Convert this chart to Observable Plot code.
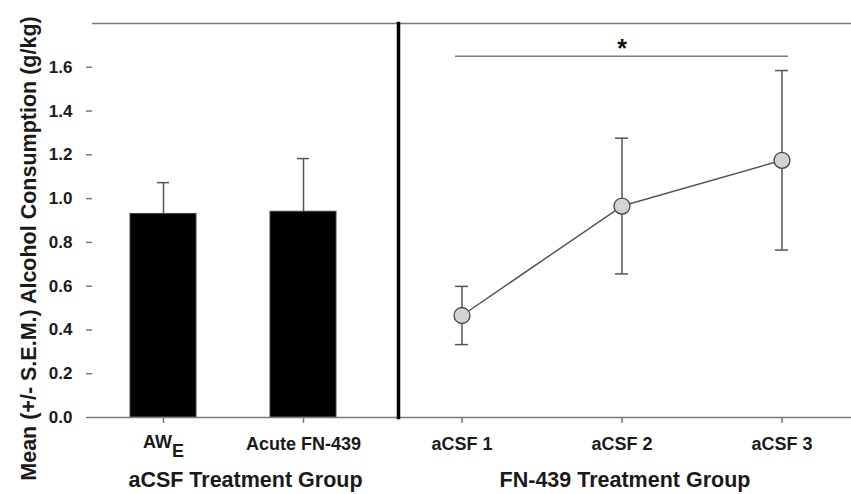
<!DOCTYPE html>
<html>
<head>
<meta charset="utf-8">
<script src="https://cdn.jsdelivr.net/npm/d3@7"></script>
<script src="https://cdn.jsdelivr.net/npm/@observablehq/plot@0.6"></script>
<style>
  html, body { margin: 0; padding: 0; background: #fff; }
  #wrap { display: flex; flex-direction: row; width: 851px; height: 494px; overflow: hidden; }
  #wrap svg { overflow: visible; flex: none; }
  #wrap svg text { font-weight: bold; }
</style>
</head>
<body>
<div id="wrap"></div>
<script>
// ---- data ----
const barGroups = ["AW_E", "Acute FN-439"];
const barMeans = [0.93, 0.94];
const barSems = [0.143, 0.243];

const sessions = ["aCSF 1", "aCSF 2", "aCSF 3"];
const sessionMeans = [0.466, 0.966, 1.175];
const sessionSems = [0.133, 0.31, 0.41];

const yTicks = [0, 0.2, 0.4, 0.6, 0.8, 1.0, 1.2, 1.4, 1.6];
const yLabel = "Mean (+/- S.E.M.) Alcohol Consumption (g/kg)";
const leftGroupLabel = "aCSF Treatment Group";
const rightGroupLabel = "FN-439 Treatment Group";
const sigFrom = "aCSF 1";
const sigTo = "aCSF 3";
const sigLevel = 1.65;
const sigText = "*";

const bars = barGroups.map((g, i) => ({group: g, mean: barMeans[i], sem: barSems[i]}));
const points = sessions.map((s, i) => ({session: s, mean: sessionMeans[i], sem: sessionSems[i]}));

const FONT = "'Liberation Sans', Arial, Helvetica, sans-serif";
const frameGray = "#7a7a7a";
const errGray = "#555";
const H = 494, MT = 23, MB = 77;

const left = Plot.plot({
  width: 398, height: H,
  marginLeft: 92, marginRight: 0, marginTop: MT, marginBottom: MB,
  style: {fontFamily: FONT, background: "transparent"},
  x: {type: "band", domain: barGroups, paddingInner: 0.5286, paddingOuter: 0.357, align: 0.38, axis: null},
  y: {domain: [0, 1.8], axis: null},
  marks: [
    Plot.ruleY([1.8], {stroke: frameGray, strokeWidth: 1.5}),
    Plot.ruleX(bars, {x: "group", y1: "mean", y2: d => d.mean + d.sem, stroke: errGray, strokeWidth: 1.5}),
    Plot.tickY(bars, {x: "group", y: d => d.mean + d.sem, insetLeft: 27, insetRight: 27, stroke: errGray, strokeWidth: 1.5}),
    Plot.barY(bars, {x: "group", y: "mean", fill: "#000", stroke: "#444", strokeWidth: 1}),
    Plot.ruleY([0], {stroke: frameGray, strokeWidth: 1.5}),
    Plot.axisY({ticks: yTicks, tickFormat: d3.format(".1f"), tickSize: 6, tickPadding: 14, fontSize: 17, stroke: frameGray, strokeWidth: 1.5, fill: "#1a1a1a", line: true, label: null}),
    Plot.axisX({tickSize: 6, tickPadding: 14, fontSize: 18, stroke: frameGray, strokeWidth: 1.5, fill: "#1a1a1a", label: null}),
    Plot.text([yLabel], {frameAnchor: "left", textAnchor: "middle", dx: -63, dy: 28, rotate: -90, fontSize: 21.5, fill: "#1a1a1a", lineAnchor: "middle"}),
    Plot.text([leftGroupLabel], {frameAnchor: "bottom", dy: 63, fontSize: 21.5, fill: "#1a1a1a", lineAnchor: "middle"})
  ]
});

const right = Plot.plot({
  width: 453, height: H,
  marginLeft: 0, marginRight: 0, marginTop: MT, marginBottom: MB,
  style: {fontFamily: FONT, background: "transparent"},
  x: {type: "band", domain: sessions, paddingInner: 0.9216, paddingOuter: 0.371, align: 0.475, axis: null},
  y: {domain: [0, 1.8], axis: null},
  marks: [
    Plot.ruleY([1.8], {stroke: frameGray, strokeWidth: 1.5}),
    Plot.ruleY([0], {stroke: frameGray, strokeWidth: 1.5}),
    Plot.ruleY([{from: sigFrom, to: sigTo, level: sigLevel}], {x1: "from", x2: "to", y: "level", stroke: frameGray, strokeWidth: 1.5}),
    Plot.text([{at: sessions[1], level: sigLevel, label: sigText}], {x: "at", y: "level", text: "label", fontSize: 25, lineAnchor: "bottom", dy: 1, fill: "#111"}),
    Plot.ruleX(points, {x: "session", y1: d => d.mean - d.sem, y2: d => d.mean + d.sem, stroke: errGray, strokeWidth: 1.5}),
    Plot.tickY(points, {x: "session", y: d => d.mean + d.sem, stroke: errGray, strokeWidth: 1.5}),
    Plot.tickY(points, {x: "session", y: d => d.mean - d.sem, stroke: errGray, strokeWidth: 1.5}),
    Plot.line(points, {x: "session", y: "mean", stroke: errGray, strokeWidth: 1.5}),
    Plot.dot(points, {x: "session", y: "mean", r: 8, fill: "#d3d3d3", stroke: "#444", strokeWidth: 1.3}),
    Plot.frame({anchor: "left", stroke: "#000", strokeWidth: 3.5}),
    Plot.axisX({tickSize: 6, tickPadding: 14, fontSize: 18, stroke: frameGray, strokeWidth: 1.5, fill: "#1a1a1a", label: null}),
    Plot.text([rightGroupLabel], {frameAnchor: "bottom", dy: 63, fontSize: 21.5, fill: "#1a1a1a", lineAnchor: "middle"})
  ]
});

// subscript for AW_E tick label
d3.select(left).selectAll("text").filter(function() { return this.textContent === "AW_E"; })
  .each(function() {
    const t = d3.select(this);
    t.text(null);
    t.append("tspan").attr("dy", "-0.15em").text("AW");
    t.append("tspan").attr("dy", "0.5em").text("E");
  });

document.getElementById("wrap").append(left, right);
</script>
</body>
</html>
